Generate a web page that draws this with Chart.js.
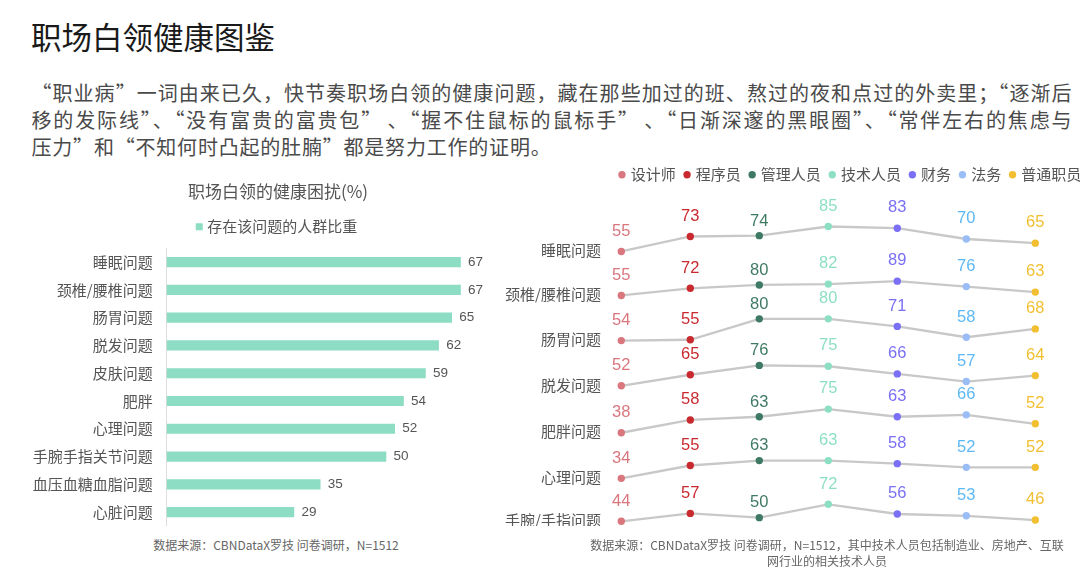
<!DOCTYPE html>
<html lang="zh-CN">
<head>
<meta charset="utf-8">
<title>职场白领健康图鉴</title>
<script src="https://cdn.jsdelivr.net/npm/chart.js@4"></script>
<style>
  html, body { margin: 0; padding: 0; background: #fff; }
  body { width: 1080px; height: 573px; position: relative; overflow: hidden;
         font-family: "Noto Sans CJK SC", "Noto Sans", sans-serif; }
  .titulo { position: absolute; left: 31px; top: 21px; font-size: 30.5px; line-height: 1;
            color: #1a1a1a; font-weight: 400; white-space: nowrap; }
  .texto { position: absolute; left: 31.5px; top: 79px; width: 1040px; font-size: 20px;
           line-height: 27px; color: #4a4a4a; }
  .texto div { white-space: nowrap; }
  .texto .just { text-align: justify; text-align-last: justify; white-space: normal; }
  .fonte { position: absolute; font-size: 12px; line-height: 16px; color: #666;
           text-align: center; white-space: nowrap; }
  canvas { position: absolute; }
</style>
</head>
<body>
<div class="titulo">职场白领健康图鉴</div>
<div class="texto">
  <div class="just">“职业病”一词由来已久，快节奏职场白领的健康问题，藏在那些加过的班、熬过的夜和点过的外卖里；“逐渐后</div>
  <div class="just">移的发际线”、“没有富贵的富贵包” 、“握不住鼠标的鼠标手” 、“日渐深邃的黑眼圈”、“常伴左右的焦虑与</div>
  <div style="letter-spacing:0.8px">压力”和“不知何时凸起的肚腩”都是努力工作的证明。</div>
</div>

<canvas id="chartProblemas" width="556" height="356" style="left:0;top:170px"></canvas>
<canvas id="chartProfissoes" width="742" height="369" style="left:480px;top:157px"></canvas>

<div class="fonte" style="left:76px;top:537px;width:400px">数据来源：CBNDataX罗技 问卷调研，N=1512</div>
<div class="fonte" style="left:576px;top:537px;width:502px">数据来源：CBNDataX罗技 问卷调研，N=1512，其中技术人员包括制造业、房地产、互联<br>网行业的相关技术人员</div>

<script>
// ===== DADOS =====
const problems = ["睡眠问题", "颈椎/腰椎问题", "肠胃问题", "脱发问题", "皮肤问题",
  "肥胖", "心理问题", "手腕手指关节问题", "血压血糖血脂问题", "心脏问题"];
const problemShare = [67, 67, 65, 62, 59, 54, 52, 50, 35, 29];

const jobs = ["设计师", "程序员", "管理人员", "技术人员", "财务", "法务", "普通职员"];
const rowNames = ["睡眠问题", "颈椎/腰椎问题", "肠胃问题", "脱发问题", "肥胖问题", "心理问题", "手腕/手指问题"];
const sleepVals = [55, 73, 74, 85, 83, 70, 65];
const neckVals = [55, 72, 80, 82, 89, 76, 63];
const stomachVals = [54, 55, 80, 80, 71, 58, 68];
const hairVals = [52, 65, 76, 75, 66, 57, 64];
const weightVals = [38, 58, 63, 75, 63, 66, 52];
const mentalVals = [34, 55, 63, 63, 58, 52, 52];
const wristVals = [44, 57, 50, 72, 56, 53, 46];
const rows = [sleepVals, neckVals, stomachVals, hairVals, weightVals, mentalVals, wristVals];

// ===== ESTILO =====
const cjk = '"Noto Sans CJK SC", "Noto Sans", sans-serif';
const latin = '"Liberation Sans", Arial, sans-serif';
const barColor = "#8ddcc4";
const pointColors = ["#d9767e", "#c92a2f", "#3e7a63", "#8ddfc4", "#7a6ff5", "#9bbdf6", "#f2bf30"];
const labelColors = ["#d9767e", "#c92a2f", "#3e7a63", "#8ddfc4", "#7a6ff5", "#5cb8f6", "#f2bf30"];
const labelLift = [20.3, 20.3, 14.7, 20.3, 20.3, 20.3, 20.3];
// escala de cada linha (faixa do eixo y empilhado)
const rowRanges = [[44.2, 97.4], [32.9, 138.3], [44.0, 96.9], [43.3, 95.3], [30.6, 99.8], [28.5, 100.7], [36.2, 109.2]];

// ===== ESPAÇO EXTRA ABAIXO DA LEGENDA =====
function legendGap(extra) {
  return {
    id: "legendGap",
    beforeInit(chart) {
      const fit = chart.legend.fit;
      chart.legend.fit = function () {
        fit.call(this);
        this.height += extra;
      };
    }
  };
}

// largura fixa do eixo, sem reservar espaço para o rótulo em cima/embaixo
function fixAxis(width) {
  return (axis) => {
    axis.width = width;
    axis.paddingTop = 0;
    axis.paddingBottom = 0;
  };
}

// ===== GRÁFICO DE BARRAS =====
const barLabels = {
  id: "barLabels",
  afterDatasetsDraw(chart) {
    const ctx = chart.ctx;
    ctx.save();
    ctx.font = "13.5px " + latin;
    ctx.fillStyle = "#555";
    ctx.textAlign = "left";
    ctx.textBaseline = "middle";
    chart.getDatasetMeta(0).data.forEach((bar, i) => {
      ctx.fillText(problemShare[i], bar.x + 7.6, bar.y);
    });
    ctx.restore();
  }
};

new Chart(document.getElementById("chartProblemas"), {
  type: "bar",
  data: {
    labels: problems,
    datasets: [{
      label: "存在该问题的人群比重",
      data: problemShare,
      backgroundColor: barColor,
      borderWidth: 0,
      barThickness: 9.5
    }]
  },
  options: {
    indexAxis: "y",
    responsive: false,
    animation: false,
    plugins: {
      title: {
        display: true,
        text: "职场白领的健康困扰(%)",
        color: "#555",
        font: { size: 17, family: cjk, weight: "normal" },
        padding: { top: 11.5, bottom: 7.3 }
      },
      legend: {
        labels: {
          usePointStyle: true,
          pointStyle: "rect",
          boxWidth: 1,
          boxHeight: 7,
          padding: 10,
          color: "#555",
          font: { size: 15, family: cjk }
        }
      },
      tooltip: { enabled: false }
    },
    scales: {
      x: { display: false, min: 0, max: 88.78 },
      y: {
        afterFit: fixAxis(166.7),
        grid: { color: "transparent", drawTicks: false },
        border: { display: true, color: "#ddd", width: 1 },
        ticks: { padding: 14, color: "#555", font: { size: 15, family: cjk } }
      }
    }
  },
  plugins: [barLabels, legendGap(4)]
});

// ===== GRÁFICO POR PROFISSÃO =====
const pointLabels = {
  id: "pointLabels",
  afterDatasetsDraw(chart) {
    const ctx = chart.ctx;
    ctx.save();
    ctx.font = "16.5px " + latin;
    ctx.textAlign = "center";
    ctx.textBaseline = "middle";
    chart.data.datasets.forEach((ds, d) => {
      chart.getDatasetMeta(d).data.forEach((pt, i) => {
        ctx.fillStyle = labelColors[i];
        ctx.fillText(ds.data[i].y, pt.x, pt.y - labelLift[i]);
      });
    });
    ctx.restore();
  }
};

const rowScales = { x: { type: "linear", display: false, min: 0, max: 8.706 } };
rows.forEach((vals, r) => {
  rowScales["r" + r] = {
    type: "linear",
    position: "left",
    stack: "linhas",
    stackWeight: 1,
    weight: rows.length - r,
    min: rowRanges[r][0],
    max: rowRanges[r][1],
    afterFit: fixAxis(141.3),
    afterBuildTicks: (axis) => { axis.ticks = [{ value: vals[0] }]; },
    grid: { display: false, drawTicks: false },
    border: { display: false },
    ticks: {
      callback: () => rowNames[r],
      padding: 20.3,
      labelOffset: -1,
      color: "#555",
      font: { size: 15, family: cjk }
    }
  };
});

new Chart(document.getElementById("chartProfissoes"), {
  type: "line",
  data: {
    datasets: rows.map((vals, r) => ({
      label: rowNames[r],
      data: vals.map((v, i) => ({ x: i, y: v })),
      yAxisID: "r" + r,
      borderColor: "#c8c8c8",
      borderWidth: 2.3,
      pointBackgroundColor: pointColors,
      pointBorderWidth: 0,
      pointRadius: 3.7,
      tension: 0,
      clip: false
    }))
  },
  options: {
    responsive: false,
    animation: false,
    layout: { autoPadding: false },
    plugins: {
      legend: {
        labels: {
          usePointStyle: true,
          boxWidth: 2.4,
          boxHeight: 5.2,
          padding: 10.2,
          color: "#555",
          font: { size: 15, family: cjk },
          generateLabels: () => jobs.map((job, i) => ({
            text: job,
            fillStyle: pointColors[i],
            strokeStyle: pointColors[i],
            lineWidth: 0,
            pointStyle: "circle",
            fontColor: "#555",
            hidden: false,
            datasetIndex: i
          }))
        }
      },
      tooltip: { enabled: false }
    },
    scales: rowScales
  },
  plugins: [pointLabels, legendGap(24)]
});
</script>
</body>
</html>
